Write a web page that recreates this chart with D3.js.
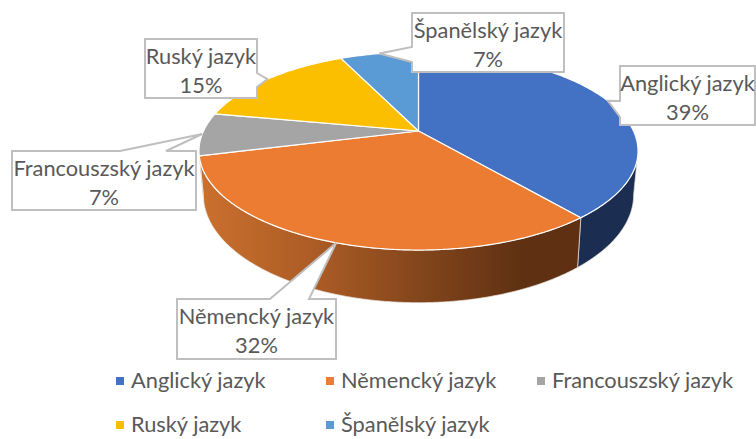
<!DOCTYPE html>
<html>
<head>
<meta charset="utf-8">
<script src="https://cdn.jsdelivr.net/npm/d3@7"></script>
<style>
  html, body { margin: 0; padding: 0; background: #fff; }
  svg { display: block; }
  text { font-family: Lato, "Noto Sans", sans-serif; fill: #595959; }
</style>
</head>
<body>
<div id="chart"></div>
<script>
// chart data
const categories = ["Anglický jazyk", "Němencký jazyk", "Francouszský jazyk", "Ruský jazyk", "Španělský jazyk"];
const values = [39, 32, 7, 15, 7];
const colors = ["#4371C3", "#EB7C31", "#A5A5A5", "#FCBF00", "#5B9BD5"];

const width = 756;
const height = 439;

// perspective of the 3D pie: apex, half axes, tilt and wall height
const cx = 418.5, cy = 131, rx = 215, ry = 95, tilt = 0.202, wall = 42;
// the bottom plane is a little narrower than the top one
const bottomScale = 0.98;
const fontSize = 21.8;

// label boxes, same order as categories. base = where the pointer leaves the box
const boxes = [
  { x: 620, y: 66, w: 135, h: 59, base: [[620, 101], [620, 117]] },
  { x: 177, y: 299, w: 159, h: 60, base: [[270, 299], [309, 299]] },
  { x: 12, y: 151, w: 184, h: 59, base: [[120, 151], [166, 151]] },
  { x: 145, y: 39, w: 112, h: 59, base: [[257, 73], [257, 87]] },
  { x: 412, y: 13, w: 152, h: 59, base: [[412, 47], [412, 62]] }
];

// legend grid
const legendCols = [116, 326, 537];
const legendRows = [381, 425];

const color = d3.scaleOrdinal().domain(categories).range(colors);

const svg = d3.select("#chart").append("svg")
  .attr("width", width)
  .attr("height", height);

// angle is clockwise from the top of the pie, drop moves down to the bottom plane
function project(angle, drop) {
  const u = -Math.cos(angle);
  const v = Math.sin(angle);
  const d = 1 - tilt * u;
  const r = drop > 0 ? rx * bottomScale : rx;
  return [cx + r * v / d, cy + (ry * u + drop) / d];
}

function rim(a0, a1, drop) {
  const n = Math.max(2, Math.ceil((a1 - a0) / 0.01));
  return d3.range(n + 1).map(i => project(a0 + (a1 - a0) * i / n, drop));
}

const line = d3.line();
const arcs = d3.pie().sort(null).value((d, i) => values[i])(categories);

const defs = svg.append("defs");

const orangeWall = defs.append("linearGradient")
  .attr("id", "wall-orange")
  .attr("gradientUnits", "userSpaceOnUse")
  .attr("x1", 200).attr("x2", 580).attr("y1", 0).attr("y2", 0);
orangeWall.selectAll("stop")
  .data([[0, "#CB702E"], [0.3, "#AC5C25"], [0.6, "#80441B"], [0.85, "#5F3012"], [1, "#5F3012"]])
  .enter().append("stop")
  .attr("offset", d => d[0])
  .attr("stop-color", d => d[1]);

// walls: only the part that faces us, between the two tangents of the rim
const frontStart = Math.PI - Math.acos(tilt);
const frontEnd = Math.PI + Math.acos(tilt);

const wallColors = ["#1B2D50", "url(#wall-orange)", "#6E6E6E", "#A67D00", "#3A6A96"];

svg.append("g").selectAll("path")
  .data(arcs.filter(d => d.endAngle > frontStart && d.startAngle < frontEnd))
  .enter().append("path")
  .attr("d", d => {
    const a0 = Math.max(d.startAngle, frontStart);
    const a1 = Math.min(d.endAngle, frontEnd);
    return line(rim(a0, a1, 0).concat(rim(a0, a1, wall).reverse())) + "Z";
  })
  .attr("fill", d => wallColors[d.index])
  .attr("stroke", "#e9e4df")
  .attr("stroke-width", 0.7);

// top of the pie
svg.append("g").selectAll("path")
  .data(arcs)
  .enter().append("path")
  .attr("d", d => line([[cx, cy]].concat(rim(d.startAngle, d.endAngle, 0))) + "Z")
  .attr("fill", d => color(d.data))
  .attr("stroke", "#ffffff")
  .attr("stroke-width", 1.2)
  .attr("stroke-linejoin", "round");

// callouts, the tip sits on the rim at the middle of the slice
const callouts = svg.append("g").selectAll("g")
  .data(arcs)
  .enter().append("g");

callouts.append("path")
  .attr("d", d => {
    const b = boxes[d.index];
    const tip = project((d.startAngle + d.endAngle) / 2, 0);
    const corners = [[b.x, b.y], [b.x + b.w, b.y], [b.x + b.w, b.y + b.h], [b.x, b.y + b.h]];
    // walk the box clockwise and put the pointer in the side it leaves from
    let pts;
    if (b.base[0][1] === b.y) {
      pts = [corners[0], b.base[0], tip, b.base[1], corners[1], corners[2], corners[3]];
    } else if (b.base[0][0] === b.x) {
      pts = [corners[0], corners[1], corners[2], corners[3], b.base[1], tip, b.base[0]];
    } else {
      pts = [corners[0], corners[1], b.base[0], tip, b.base[1], corners[2], corners[3]];
    }
    return line(pts) + "Z";
  })
  .attr("fill", "#ffffff")
  .attr("stroke", "#BFBFBF")
  .attr("stroke-width", 2)
  .attr("stroke-linejoin", "miter");

callouts.append("text")
  .attr("x", d => boxes[d.index].x + boxes[d.index].w / 2)
  .attr("y", d => boxes[d.index].y + 25)
  .attr("text-anchor", "middle")
  .attr("font-size", fontSize)
  .text(d => d.data);

callouts.append("text")
  .attr("x", d => boxes[d.index].x + boxes[d.index].w / 2)
  .attr("y", d => boxes[d.index].y + 54)
  .attr("text-anchor", "middle")
  .attr("font-size", fontSize)
  .text(d => d.value + "%");

// legend
const legendItems = svg.append("g").selectAll("g")
  .data(categories)
  .enter().append("g")
  .attr("transform", (d, i) => `translate(${legendCols[i % 3]},${legendRows[Math.floor(i / 3)]})`);

legendItems.append("rect")
  .attr("x", 0)
  .attr("y", -4)
  .attr("width", 8)
  .attr("height", 8)
  .attr("fill", d => color(d));

legendItems.append("text")
  .attr("x", 15)
  .attr("y", 7)
  .attr("font-size", fontSize)
  .text(d => d);
</script>
</body>
</html>
